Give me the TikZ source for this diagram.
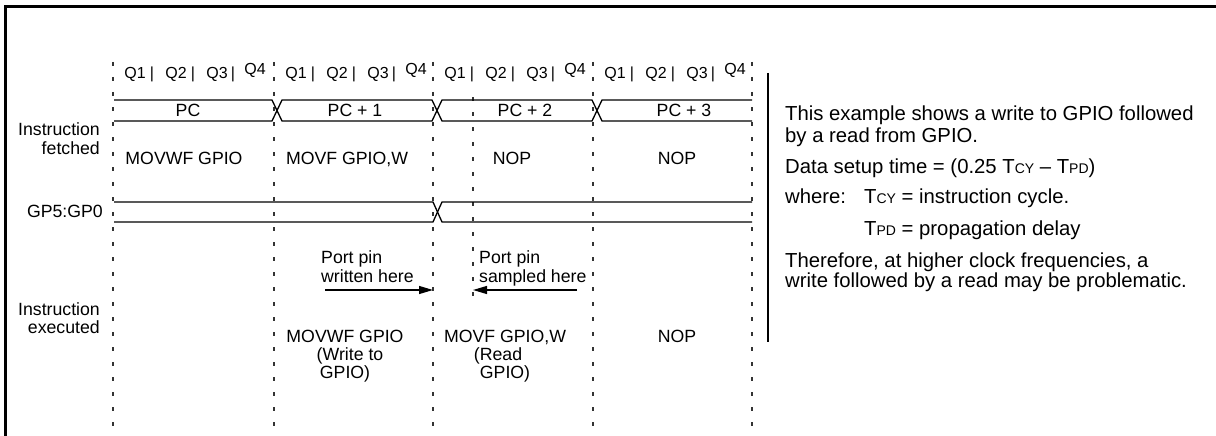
\documentclass[tikz,border=0pt]{standalone}
\usepackage{fontspec}
\setmainfont{Liberation Sans}
\usetikzlibrary{arrows.meta}
\newcommand\lblfont{\fontsize{17.7}{19}\selectfont}
\newcommand\qfont{\fontsize{16}{16}\selectfont}
\newcommand\notefont{\fontsize{20.3}{21}\selectfont}
\newcommand\tsub[1]{T{\fontsize{14}{14}\selectfont #1}}

\begin{document}
\begin{tikzpicture}[x=1pt,y=-1pt,
  lbl/.style={inner sep=0pt,font=\lblfont},
  qlbl/.style={inner sep=0pt,font=\qfont,anchor=base},
  note/.style={inner sep=0pt,font=\notefont,anchor=base west},
  cyc/.style={draw=black!80,line width=1.4pt,dash pattern=on 4pt off 11pt},
  bus/.style={draw,line width=1.3pt,line join=miter},
  frame/.style={draw,line width=2.6pt},
  marker/.style={draw,line width=1.2pt,-{Triangle[length=14pt,width=8pt]}}]
\useasboundingbox (0,0) rectangle (1216,436);

% outer frame (top and left edges)
\draw[frame] (5.5,436) -- (5.5,6.5) -- (1216,6.5);

% cycle boundaries
\foreach \x in {113,274,433,593,752}
  \draw[cyc] (\x,62) -- (\x,436);
\draw[cyc] (473,97) -- (473,305);

% Q-state labels
\foreach \c [count=\i] in {113,274,433,593} {
  \node[qlbl] (qa\i) at (\c+22,78.5) {Q1};
  \node[qlbl] (sa\i) at (\c+39,78.5) {|};
  \node[qlbl] (qb\i) at (\c+63,78.5) {Q2};
  \node[qlbl] (sb\i) at (\c+80,78.5) {|};
  \node[qlbl] (qc\i) at (\c+104,78.5) {Q3};
  \node[qlbl] (sc\i) at (\c+120,78.5) {|};
  \node[qlbl] (qd\i) at (\c+142,74.5) {Q4};
}

% program counter bus
\draw[bus] (114,100) -- (272,100) -- (282,121) -- (432,121) -- (442,100)
  -- (592,100) -- (602,121) -- (752,121);
\draw[bus] (114,121) -- (272,121) -- (282,100) -- (432,100) -- (442,121)
  -- (592,121) -- (602,100) -- (752,100);
\node[lbl,anchor=base] (pc0) at (188,117) {PC};
\node[lbl,anchor=base] (pc1) at (355,117) {PC + 1};
\node[lbl,anchor=base] (pc2) at (525,117) {PC + 2};
\node[lbl,anchor=base] (pc3) at (684,117) {PC + 3};

% fetched instructions
\node[lbl,anchor=base east] (fa) at (100,135) {Instruction};
\node[lbl,anchor=base east] (fb) at (100,154) {fetched};
\node[lbl,anchor=base] (f0) at (184,164) {MOVWF GPIO};
\node[lbl,anchor=base] (f1) at (347,164) {MOVF GPIO,W};
\node[lbl,anchor=base] (f2) at (512,164) {NOP};
\node[lbl,anchor=base] (f3) at (677,164) {NOP};

% port bus
\node[lbl,anchor=base east] (gp) at (103,217) {GP5:GP0};
\draw[bus] (114,202) -- (433,202) -- (442,222) -- (752,222);
\draw[bus] (114,222) -- (433,222) -- (442,202) -- (752,202);

% write / sample markers
\node[lbl,anchor=base west] (wa) at (321,263) {Port pin};
\node[lbl,anchor=base west] (wb) at (321,282) {written here};
\node[lbl,anchor=base west] (ra) at (479,263) {Port pin};
\node[lbl,anchor=base west] (rb) at (479,282) {sampled here};
\coordinate (w0) at (325,290);
\coordinate (w1) at (433,290);
\coordinate (r0) at (577,290);
\coordinate (r1) at (473,290);
\draw[marker] (w0) -- (w1);
\draw[marker] (r0) -- (r1);

% executed instructions
\node[lbl,anchor=base east] (ea) at (100,315) {Instruction};
\node[lbl,anchor=base east] (eb) at (100,333) {executed};
\node[lbl,anchor=base] (e1a) at (345,342) {MOVWF GPIO};
\node[lbl,anchor=base] (e1b) at (350,360) {(Write to};
\node[lbl,anchor=base] (e1c) at (345,378) {GPIO)};
\node[lbl,anchor=base] (e2a) at (505,342) {MOVF GPIO,W};
\node[lbl,anchor=base] (e2b) at (498,360) {(Read};
\node[lbl,anchor=base] (e2c) at (505,378) {GPIO)};
\node[lbl,anchor=base] (e3) at (677,342) {NOP};

% side note
\draw[line width=2.6pt] (768,73) -- (768,342);
\node[note] (n1) at (785,121) {This example shows a write to GPIO followed};
\node[note] (n2) at (785,142) {by a read from GPIO.};
\node[note] (n3) at (785,173) {Data setup time = (0.25 \tsub{CY} – \tsub{PD})};
\node[note] (n4) at (785,203) {where:};
\node[note] (n5) at (864,203) {\tsub{CY} = instruction cycle.};
\node[note] (n6) at (864,235) {\tsub{PD} = propagation delay};
\node[note] (n7) at (785,267) {Therefore, at higher clock frequencies, a};
\node[note] (n8) at (785,287) {write followed by a read may be problematic.};
\end{tikzpicture}
\end{document}
